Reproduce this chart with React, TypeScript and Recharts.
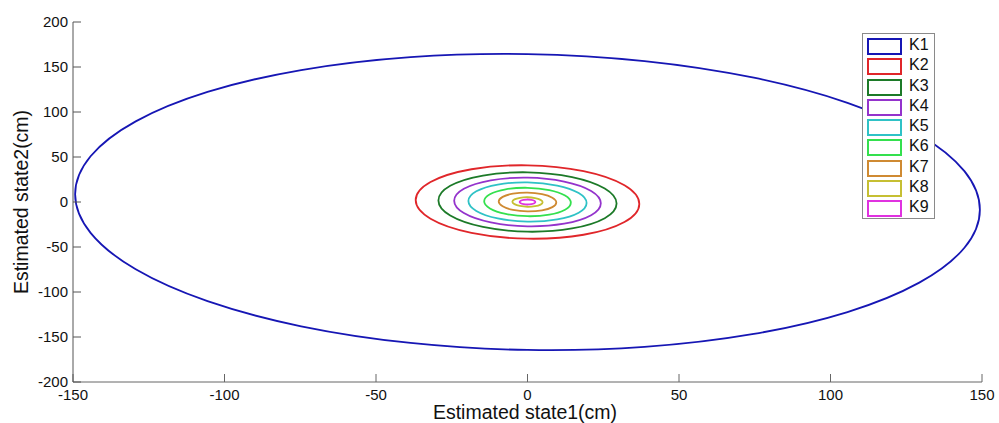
import React from 'react';
import { LineChart, Line, XAxis, YAxis, Legend, Label } from 'recharts';

// points, walked round each ellipse (x, y in cm)
const k1: [number, number][] = [
  [149.3, -8.5], [144.2, 34.3], [129.3, 74.8], [105.6, 110.2], [74.7, 138.1], [38.6, 156.6],
  [0, 164.4], [-38.6, 161.0], [-74.7, 146.6], [-105.6, 122.3], [-129.3, 89.6], [-144.2, 50.8],
  [-149.3, 8.5], [-144.2, -34.3], [-129.3, -74.8], [-105.6, -110.2], [-74.7, -138.1], [-38.6, -156.6],
  [0, -164.4], [38.6, -161.0], [74.7, -146.6], [105.6, -122.3], [129.3, -89.6], [144.2, -50.8],
];
const k2: [number, number][] = [
  [36.9, -2.1], [32.0, 18.6], [18.5, 34.3], [0, 40.8], [-18.5, 36.4], [-32.0, 22.2],
  [-36.9, 2.1], [-32.0, -18.6], [-18.5, -34.3], [0, -40.8], [18.5, -36.4], [32.0, -22.2],
];
const k3: [number, number][] = [
  [29.4, -1.7], [25.5, 15.0], [14.7, 27.7], [0, 33.0], [-14.7, 29.4], [-25.5, 18.0],
  [-29.4, 1.7], [-25.5, -15.0], [-14.7, -27.7], [0, -33.0], [14.7, -29.4], [25.5, -18.0],
];
const k4: [number, number][] = [
  [24.2, -1.4], [21.0, 12.3], [12.1, 22.7], [0, 27.0], [-12.1, 24.1], [-21.0, 14.7],
  [-24.2, 1.4], [-21.0, -12.3], [-12.1, -22.7], [0, -27.0], [12.1, -24.1], [21.0, -14.7],
];
const k5: [number, number][] = [
  [19.5, -1.1], [16.9, 9.9], [9.8, 18.3], [0, 21.8], [-9.8, 19.4], [-16.9, 11.9],
  [-19.5, 1.1], [-16.9, -9.9], [-9.8, -18.3], [0, -21.8], [9.8, -19.4], [16.9, -11.9],
];
const k6: [number, number][] = [
  [14.3, -0.8], [12.4, 7.2], [7.2, 13.3], [0, 15.8], [-7.2, 14.1], [-12.4, 8.6],
  [-14.3, 0.8], [-12.4, -7.2], [-7.2, -13.3], [0, -15.8], [7.2, -14.1], [12.4, -8.6],
];
const k7: [number, number][] = [
  [9.5, -0.5], [8.2, 4.8], [4.8, 8.8], [0, 10.5], [-4.8, 9.3], [-8.2, 5.7],
  [-9.5, 0.5], [-8.2, -4.8], [-4.8, -8.8], [0, -10.5], [4.8, -9.3], [8.2, -5.7],
];
const k8: [number, number][] = [
  [5.0, -0.3], [4.3, 2.4], [2.5, 4.4], [0, 5.3], [-2.5, 4.7], [-4.3, 2.9],
  [-5.0, 0.3], [-4.3, -2.4], [-2.5, -4.4], [0, -5.3], [2.5, -4.7], [4.3, -2.9],
];
const k9: [number, number][] = [
  [2.6, 0], [2.25, 1.4], [1.3, 2.4], [0, 2.8], [-1.3, 2.4], [-2.25, 1.4],
  [-2.6, 0], [-2.25, -1.4], [-1.3, -2.4], [0, -2.8], [1.3, -2.4], [2.25, -1.4],
];

const seriesNames = ['K1', 'K2', 'K3', 'K4', 'K5', 'K6', 'K7', 'K8', 'K9'];
const seriesPoints = [k1, k2, k3, k4, k5, k6, k7, k8, k9];
const seriesColors = ['#1616b4', '#e0262a', '#1c7a28', '#9433cc', '#2fc2c6', '#34e04e', '#cf8a32', '#c6bf33', '#e032e0'];

const xTicks = [-150, -100, -50, 0, 50, 100, 150];
const yTicks = [-200, -150, -100, -50, 0, 50, 100, 150, 200];

const FONT = '"Liberation Sans", Arial, sans-serif';

// closed catmull-rom curve so each ellipse goes smoothly through its points
const smoothClosed = (context: any) => {
  let pts: [number, number][] = [];
  return {
    areaStart() {},
    areaEnd() {},
    lineStart() {
      pts = [];
    },
    point(x: number, y: number) {
      pts.push([+x, +y]);
    },
    lineEnd() {
      const n = pts.length;
      if (!n) return;
      context.moveTo(pts[0][0], pts[0][1]);
      for (let i = 0; i < n; i++) {
        const p0 = pts[(i - 1 + n) % n];
        const p1 = pts[i];
        const p2 = pts[(i + 1) % n];
        const p3 = pts[(i + 2) % n];
        context.bezierCurveTo(
          p1[0] + (p2[0] - p0[0]) / 6,
          p1[1] + (p2[1] - p0[1]) / 6,
          p2[0] - (p3[0] - p1[0]) / 6,
          p2[1] - (p3[1] - p1[1]) / 6,
          p2[0],
          p2[1]
        );
      }
      context.closePath();
    },
  };
};

const renderLegend = () => (
  <div
    style={{
      width: 71,
      height: 184,
      border: '1px solid #8a8a8a',
      background: '#fff',
      fontFamily: FONT,
      fontSize: 16,
      boxSizing: 'content-box',
    }}
  >
    {seriesNames.map((name, i) => (
      <div key={name} style={{ position: 'relative', height: 20.3, marginTop: i === 0 ? 2 : 0 }}>
        <div
          style={{
            position: 'absolute',
            left: 4,
            top: 2,
            width: 31,
            height: 13,
            border: `2px solid ${seriesColors[i]}`,
            boxSizing: 'content-box',
          }}
        />
        <span style={{ position: 'absolute', left: 46, top: 0, lineHeight: '18px', color: '#111' }}>{name}</span>
      </div>
    ))}
  </div>
);

const App: React.FC = () => {
  return (
    <div style={{ position: 'absolute', left: 0, top: 0, width: 999, height: 423, background: '#fff', fontFamily: FONT }}>
      <LineChart width={999} height={423} margin={{ top: 22, right: 17, bottom: 11, left: 13 }}>
        <XAxis
          dataKey="x"
          type="number"
          domain={[-150, 150]}
          ticks={xTicks}
          allowDataOverflow
          height={30}
          axisLine={{ stroke: '#666', strokeWidth: 1 }}
          tickLine={{ stroke: '#666', strokeWidth: 1 }}
          tickSize={-8}
          tickMargin={15}
          tick={{ fontSize: 15, fill: '#111', fontFamily: FONT }}
        >
          <Label
            content={() => (
              <text x={525} y={419} textAnchor="middle" fontSize={19.5} fill="#111" fontFamily={FONT}>
                Estimated state1(cm)
              </text>
            )}
          />
        </XAxis>
        <YAxis
          dataKey="y"
          type="number"
          domain={[-200, 200]}
          ticks={yTicks}
          allowDataOverflow
          width={60}
          axisLine={{ stroke: '#555', strokeWidth: 1 }}
          tickLine={{ stroke: '#555', strokeWidth: 1 }}
          tickSize={-8}
          tickMargin={13}
          tick={{ fontSize: 15, fill: '#111', fontFamily: FONT }}
        >
          <Label
            content={() => (
              <text
                x={27.5}
                y={202}
                transform="rotate(-90 27.5 202)"
                textAnchor="middle"
                fontSize={19.5}
                fill="#111"
                fontFamily={FONT}
              >
                Estimated state2(cm)
              </text>
            )}
          />
        </YAxis>
        {seriesNames.map((name, i) => (
          <Line
            key={name}
            name={name}
            data={seriesPoints[i].map(([x, y]) => ({ x, y }))}
            dataKey="y"
            type={smoothClosed as any}
            stroke={seriesColors[i]}
            strokeWidth={1.8}
            dot={false}
            activeDot={false}
            isAnimationActive={false}
          />
        ))}
        <Legend
          layout="vertical"
          align="center"
          verticalAlign="middle"
          content={renderLegend}
          wrapperStyle={{ position: 'absolute', left: 862, top: 33, width: 73, height: 186 }}
        />
      </LineChart>
    </div>
  );
};

export default App;
